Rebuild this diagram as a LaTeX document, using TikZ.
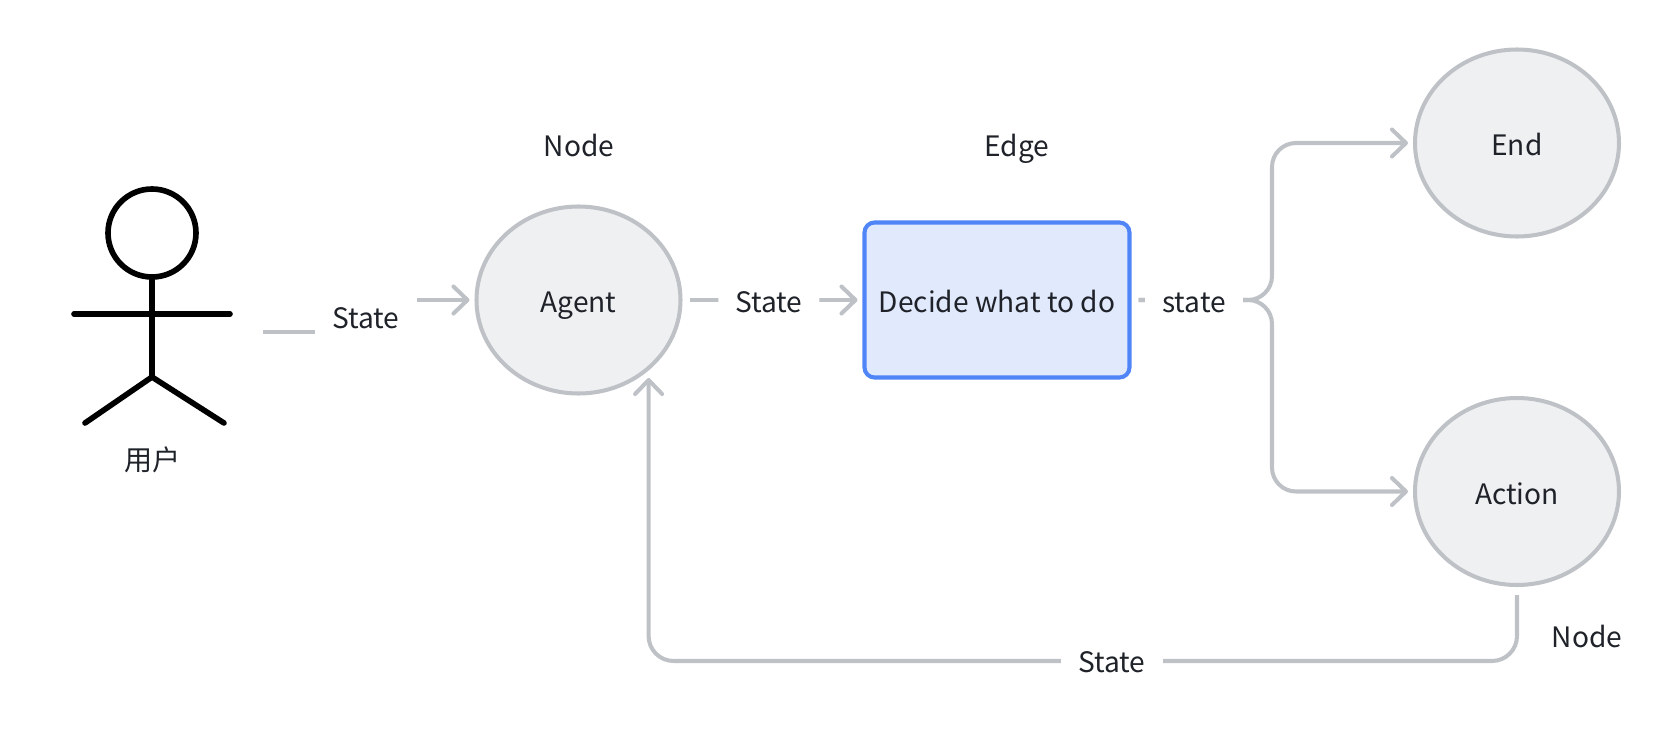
\documentclass[tikz,border=0pt]{standalone}
\usepackage{fontspec}
\setmainfont{Noto Sans CJK SC}
\usetikzlibrary{arrows.meta, positioning, shapes.geometric}
\definecolor{linegray}{RGB}{190,193,198}
\definecolor{nodegray}{RGB}{239,240,242}
\definecolor{boxblue}{RGB}{79,133,247}
\definecolor{boxfill}{RGB}{225,233,253}
\definecolor{inkdark}{RGB}{31,35,41}

\begin{document}
\begin{tikzpicture}[
  every node/.style={font=\fontsize{8}{10}\selectfont, text=inkdark, outer sep=0pt, text height=0.3cm, text depth=0.05cm},
  state/.style={draw=linegray, fill=nodegray, ellipse, minimum width=2.04cm, minimum height=1.87cm, line width=1.15pt},
  decide/.style={draw=boxblue, fill=boxfill, rounded corners=0.1cm, minimum width=2.65cm, minimum height=1.55cm, line width=1.15pt},
  lbl/.style={fill=white, inner xsep=0.17cm, inner ysep=0.05cm},
  conn/.style={draw=linegray, line width=1.15pt, rounded corners=0.24cm, -{Straight Barb[round,length=1.4mm,width=2.7mm]}},
  stick/.style={draw=black, line width=1.6pt, line cap=round},
]
  \useasboundingbox (0,0) rectangle (16.7,7.38);

  \node[state] (agent) at (5.785,4.38) {Agent};
  \node[decide, right=1.84cm of agent] (box) {Decide what to do};
  \node[state] (end) at (15.17,5.95) {End};
  \node[state, below=1.615cm of end] (action) {Action};

  \node (agenttag) at (5.79,5.94) {Node};
  \node (edgetag) at (10.17,5.94) {Edge};
  \node (actiontag) at (15.87,1.03) {Node};

  % Stick figure
  \node[circle, draw=black, line width=1.6pt, minimum size=0.88cm] (head) at (1.52,5.05) {};
  \coordinate (hip) at (1.52,3.61);
  \coordinate (armleft) at (0.74,4.24);
  \coordinate (armright) at (2.3,4.24);
  \coordinate (footleft) at (0.85,3.15);
  \coordinate (footright) at (2.24,3.15);
  \draw[stick] (head.south) -- (hip);
  \draw[stick] (armleft) -- (armright);
  \draw[stick] (footleft) -- (hip) -- (footright);
  \node (user) at (1.53,2.8) {用户};

  \coordinate (userout) at (2.63,4.06);
  \coordinate (fork) at (12.72,4.38);
  \coordinate (agentin) at (6.486,3.6);

  \draw[conn, sharp corners, shorten >=0.07cm] (userout) -| (3.66,4.2) |- (agent.west);
  \node[lbl, minimum height=0.46cm] (userstate) at (3.66,4.22) {State};

  \draw[conn, shorten <=0.09cm, shorten >=0.07cm] (agent) -- node[lbl, pos=0.48] (agentstate) {State} (box);

  % Branches out of the fork
  \draw[conn, shorten <=0.09cm, shorten >=0.07cm] (box.east) -- (fork) |- (end.west);
  \draw[conn, shorten <=0.09cm, shorten >=0.07cm] (box.east) -- (fork) |- (action.west);
  \node[lbl] (boxstate) at (11.94,4.38) {state};

  % Return path
  \draw[conn, rounded corners=0.25cm, shorten <=0.1cm] (action.south) -- ++(0,-0.76) -| (agentin);
  \node[lbl] (backstate) at (11.12,0.78) {State};
\end{tikzpicture}
\end{document}
